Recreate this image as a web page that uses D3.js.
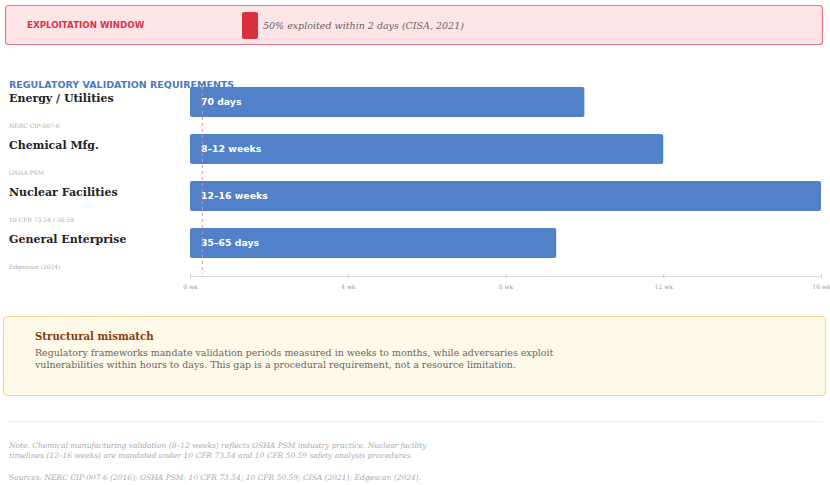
<!DOCTYPE html>
<html>
<head>
<meta charset="utf-8">
<script src="https://cdn.jsdelivr.net/npm/d3@7"></script>
<style>
  body { margin: 0; background: #fff; }
  svg { display: block; }
</style>
</head>
<body>
<div id="chart"></div>
<script>
// Sectors and their validation requirement, in weeks.
var sectors = ["Energy / Utilities", "Chemical Mfg.", "Nuclear Facilities", "General Enterprise"];
var sources = ["NERC CIP-007-6", "OSHA PSM", "10 CFR 73.54 / 50.59", "Edgescan (2024)"];
var weeks = [10, 12, 16, 65 / 7];
var barLabels = ["70 days", "8\u201312 weeks", "12\u201316 weeks", "35\u201365 days"];
var tickValues = [0, 4, 8, 12, 16];
var exploitWeeks = 2 / 7;

var width = 830;
var height = 485;
var serif = "'DejaVu Serif', serif";
var sans = "'DejaVu Sans', sans-serif";

var svg = d3.select("#chart")
  .append("svg")
    .attr("width", width)
    .attr("height", height);

// Exploitation window banner
svg.append("rect")
  .attr("x", 5.5).attr("y", 5.5)
  .attr("width", 817).attr("height", 39)
  .attr("rx", 3)
  .style("fill", "#fde4e7")
  .style("stroke", "#e17b89")
  .style("stroke-width", 1.2);

svg.append("text")
  .attr("x", 27).attr("y", 28)
  .style("font-family", sans).style("font-size", "8.7px").style("font-weight", "bold")
  .style("fill", "#d63447")
  .text("EXPLOITATION WINDOW");

svg.append("rect")
  .attr("x", 242).attr("y", 12)
  .attr("width", 16).attr("height", 27)
  .attr("rx", 2)
  .style("fill", "#d9323f");

svg.append("text")
  .attr("x", 263).attr("y", 28.5)
  .style("font-family", serif).style("font-size", "9.5px").style("font-style", "italic")
  .style("fill", "#666")
  .text("50% exploited within 2 days (CISA, 2021)");

// Section title
svg.append("text")
  .attr("x", 9).attr("y", 88)
  .style("font-family", sans).style("font-size", "9.5px").style("font-weight", "bold")
  .style("fill", "#4a78c2")
  .text("REGULATORY VALIDATION REQUIREMENTS");

// Scales
var x = d3.scaleLinear().domain([0, 16]).range([190, 821]);
var y = d3.scaleBand().domain(sectors).range([87, 258]).paddingInner(17 / 47).paddingOuter(0);

// Bars
var rows = svg.selectAll("g.row")
  .data(sectors)
  .enter()
  .append("g")
    .attr("class", "row");

rows.append("rect")
  .attr("x", x(0))
  .attr("y", function (d) { return y(d); })
  .attr("width", function (d, i) { return x(weeks[i]) - x(0); })
  .attr("height", y.bandwidth())
  .attr("rx", 2)
  .style("fill", "#5181c8");

rows.append("text")
  .attr("x", x(0) + 11)
  .attr("y", function (d) { return y(d) + 18; })
  .style("font-family", sans).style("font-size", "9.3px").style("font-weight", "bold")
  .style("fill", "#fff")
  .text(function (d, i) { return barLabels[i]; });

rows.append("text")
  .attr("x", 9)
  .attr("y", function (d) { return y(d) + 15; })
  .style("font-family", serif).style("font-size", "11px").style("font-weight", "bold")
  .style("fill", "#222")
  .text(function (d) { return d; });

rows.append("text")
  .attr("x", 9)
  .attr("y", function (d) { return y(d) + 41; })
  .style("font-family", serif).style("font-size", "6px")
  .style("fill", "#aaa")
  .text(function (d, i) { return sources[i]; });

// Exploitation marker
svg.append("line")
  .attr("x1", x(exploitWeeks) + 1).attr("x2", x(exploitWeeks) + 1)
  .attr("y1", 87).attr("y2", 274)
  .style("stroke", "#e68a96")
  .style("stroke-width", 1)
  .style("stroke-dasharray", "3,3");

// Axis
var axis = svg.append("g")
  .attr("transform", "translate(0, 276)")
  .call(d3.axisBottom(x)
    .tickValues(tickValues)
    .tickSize(3)
    .tickFormat(function (d) { return d + " wk"; }));

axis.select(".domain").style("stroke", "#ddd");
axis.selectAll(".tick line").style("stroke", "#ccc").attr("y1", -2).attr("y2", 2);
axis.selectAll(".tick text")
  .attr("y", 9)
  .style("font-family", serif).style("font-size", "6px")
  .style("fill", "#999");

// Structural mismatch callout
svg.append("rect")
  .attr("x", 3.5).attr("y", 316.5)
  .attr("width", 822).attr("height", 79)
  .attr("rx", 4)
  .style("fill", "#fef9e8")
  .style("stroke", "#f0d98e")
  .style("stroke-width", 1.2);

svg.append("text")
  .attr("x", 35).attr("y", 340)
  .style("font-family", serif).style("font-size", "10.2px").style("font-weight", "bold")
  .style("fill", "#8c3b12")
  .text("Structural mismatch");

var bodyLines = [
  "Regulatory frameworks mandate validation periods measured in weeks to months, while adversaries exploit",
  "vulnerabilities within hours to days. This gap is a procedural requirement, not a resource limitation."
];
svg.selectAll("text.body")
  .data(bodyLines)
  .enter()
  .append("text")
    .attr("class", "body")
    .attr("x", 35)
    .attr("y", function (d, i) { return 356 + i * 12; })
    .style("font-family", serif).style("font-size", "9.45px")
    .style("fill", "#666")
    .text(function (d) { return d; });

// Separator
svg.append("line")
  .attr("x1", 6).attr("x2", 822)
  .attr("y1", 421.5).attr("y2", 421.5)
  .style("stroke", "#eee");

var noteLines = [
  "Note. Chemical manufacturing validation (8\u201312 weeks) reflects OSHA PSM industry practice. Nuclear facility",
  "timelines (12\u201316 weeks) are mandated under 10 CFR 73.54 and 10 CFR 50.59 safety analysis procedures."
];
svg.selectAll("text.note")
  .data(noteLines)
  .enter()
  .append("text")
    .attr("class", "note")
    .attr("x", 9)
    .attr("y", function (d, i) { return 448 + i * 10; })
    .style("font-family", serif).style("font-size", "7.5px").style("font-style", "italic")
    .style("fill", "#aaa")
    .text(function (d) { return d; });

svg.append("text")
  .attr("x", 9).attr("y", 480)
  .style("font-family", serif).style("font-size", "7.5px").style("font-style", "italic")
  .style("fill", "#aaa")
  .text("Sources: NERC CIP-007-6 (2016); OSHA PSM; 10 CFR 73.54; 10 CFR 50.59; CISA (2021); Edgescan (2024).");
</script>
</body>
</html>
